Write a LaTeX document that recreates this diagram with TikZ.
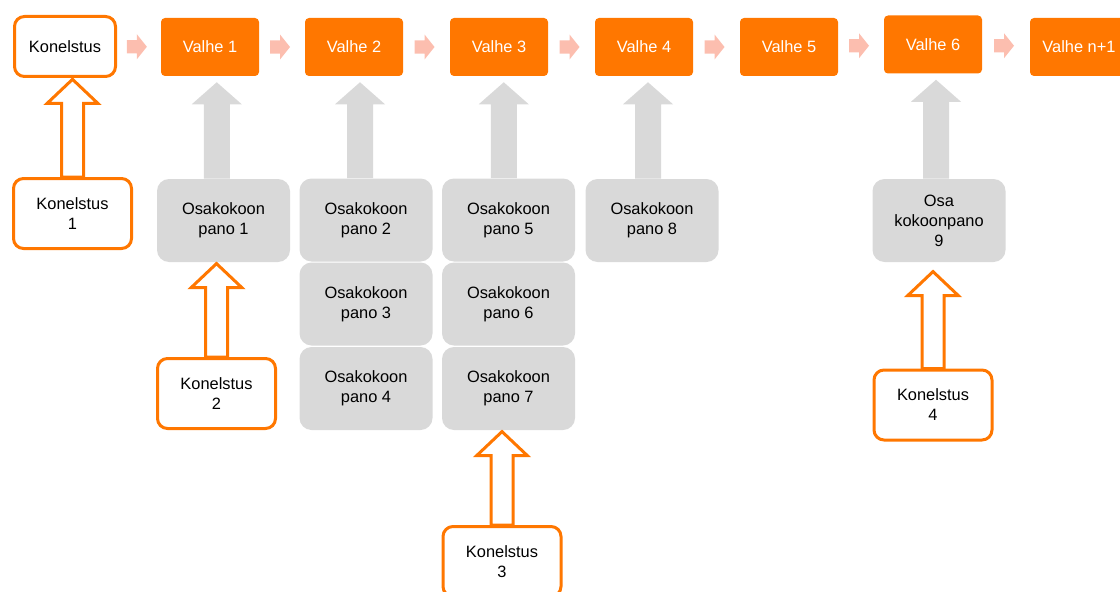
\documentclass[tikz,border=0pt]{standalone}
\usepackage{fontspec}
\setmainfont{Liberation Sans}
\usetikzlibrary{calc}

\definecolor{valheorange}{RGB}{255,119,0}
\definecolor{osagray}{RGB}{217,217,217}
\definecolor{steppink}{RGB}{252,190,175}

\tikzset{
  every node/.style={font=\fontsize{12.3}{15}\selectfont, align=center, inner sep=0pt},
  valhe/.style={fill=valheorange, text=white, rounded corners=3pt, minimum width=73.5pt, minimum height=43.5pt},
  machine/.style={draw=valheorange, line width=2.25pt, fill=white, rounded corners=7.5pt, minimum width=88.5pt, minimum height=52.5pt},
  osa/.style={fill=osagray, rounded corners=9pt, minimum width=99.75pt, minimum height=62.25pt},
  grayarrow/.style={fill=osagray},
  openarrow/.style={draw=valheorange, line width=2.25pt, fill=white, line join=miter},
  pinkarrow/.style={fill=steppink}
}

% upward block arrow: style, from, to, gap, x position, half shaft, half head, head length
\newcommand\upblock[8]{%
  \path let \p1=(#2.north), \p2=(#3.south), \p3=($(\p1)!#5!(\p2)$),
    \p4=($(\p2)+(0pt,-#4)$) in
    [#1] (\x3-#6,\y1) -- (\x3-#6,\y4-#8) -- (\x3-#7,\y4-#8) -- (\x3,\y4)
      -- (\x3+#7,\y4-#8) -- (\x3+#6,\y4-#8) -- (\x3+#6,\y1) -- cycle;}
\newcommand\grayup[2]{\upblock{grayarrow}{#1}{#2}{4.5pt}{0.5}{9.75pt}{18.75pt}{16.5pt}}
\newcommand\orangeup[3][1pt]{\upblock{openarrow}{#2}{#3}{#1}{0}{8.25pt}{19pt}{18pt}}
% small step arrow between two boxes of the top row
\newcommand\sidestep[2]{%
  \path let \p1=($(#1.east)!0.5!(#2.west)$) in
    [pinkarrow] (\x1-9pt,\y1-4.9pt) -- (\x1-1.5pt,\y1-4.9pt) -- (\x1-1.5pt,\y1-9.4pt)
      -- (\x1+6pt,\y1) -- (\x1-1.5pt,\y1+9.4pt) -- (\x1-1.5pt,\y1+4.9pt)
      -- (\x1-9pt,\y1+4.9pt) -- cycle;}

\begin{document}
\begin{tikzpicture}[x=0.75pt, y=-0.75pt]
  \useasboundingbox (0,0) rectangle (1120,592);

  % top row
  \node[machine, minimum width=75.75pt, minimum height=45pt, text=black] (kone) at (65,46.5) {Konelstus};
  \node[valhe] (valhe1) at (210,47) {Valhe 1};
  \node[valhe] (valhe2) at (354,47) {Valhe 2};
  \node[valhe] (valhe3) at (499,47) {Valhe 3};
  \node[valhe] (valhe4) at (644,47) {Valhe 4};
  \node[valhe] (valhe5) at (789,47) {Valhe 5};
  \node[valhe] (valhe6) at (933,44.5) {Valhe 6};
  \node[valhe] (valhen) at (1079,47) {Valhe n+1};

  \sidestep{kone}{valhe1}
  \sidestep{valhe1}{valhe2}
  \sidestep{valhe2}{valhe3}
  \sidestep{valhe3}{valhe4}
  \sidestep{valhe4}{valhe5}
  \sidestep{valhe5}{valhe6}
  \sidestep{valhe6}{valhen}

  % sub-assemblies
  \node[osa] (osa1) at (223.5,220.5) {Osakokoon\\pano 1};
  \node[osa] (osa2) at (366,220) {Osakokoon\\pano 2};
  \node[osa] (osa3) at (366,304) {Osakokoon\\pano 3};
  \node[osa] (osa4) at (366,388.5) {Osakokoon\\pano 4};
  \node[osa] (osa5) at (508.5,220) {Osakokoon\\pano 5};
  \node[osa] (osa6) at (508.5,304) {Osakokoon\\pano 6};
  \node[osa] (osa7) at (508.5,388.5) {Osakokoon\\pano 7};
  \node[osa] (osa8) at (652,220.5) {Osakokoon\\pano 8};
  \node[osa] (osa9) at (939,220.5) {Osa\\kokoonpano\\9};

  \grayup{osa1}{valhe1}
  \grayup{osa2}{valhe2}
  \grayup{osa5}{valhe3}
  \grayup{osa8}{valhe4}
  \grayup{osa9}{valhe6}

  % machines
  \node[machine] (kone1) at (72.5,213.5) {Konelstus\\1};
  \node[machine] (kone2) at (216.5,393.5) {Konelstus\\2};
  \node[machine] (kone3) at (502,561.5) {Konelstus\\3};
  \node[machine] (kone4) at (933,405) {Konelstus\\4};

  \orangeup{kone1}{kone}
  \orangeup{kone2}{osa1}
  \orangeup{kone3}{osa7}
  \orangeup[7pt]{kone4}{osa9}
\end{tikzpicture}
\end{document}
